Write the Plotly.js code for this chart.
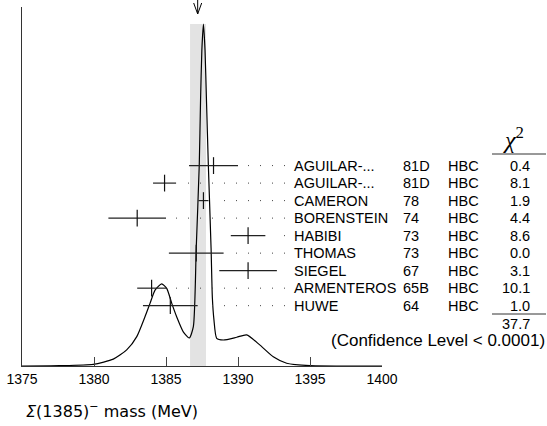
<!DOCTYPE html>
<html>
<head>
<meta charset="utf-8">
<script src="https://cdn.plot.ly/plotly-3.0.1.min.js"></script>
<style>html,body{margin:0;padding:0;background:#fff;}#chart{width:547px;height:426px;}</style>
</head>
<body>
<div id="chart"></div>
<script>
// ---- data ----
const names  = ["AGUILAR-...", "AGUILAR-...", "CAMERON", "BORENSTEIN", "HABIBI", "THOMAS", "SIEGEL", "ARMENTEROS", "HUWE"];
const years  = ["81D", "81D", "78", "74", "73", "73", "67", "65B", "64"];
const techs  = ["HBC", "HBC", "HBC", "HBC", "HBC", "HBC", "HBC", "HBC", "HBC"];
const values = [1388.3, 1384.9, 1387.6, 1383.0, 1390.7, 1387.1, 1390.7, 1384.0, 1385.3];
const errors = [1.7, 0.8, 0.35, 2.0, 1.2, 1.9, 2.0, 1.0, 1.9];
const chi2   = ["0.4", "8.1", "1.9", "4.4", "8.6", "0.0", "3.1", "10.1", "1.0"];
const chi2Total = "37.7";
const confidence = "(Confidence Level < 0.0001)";
const average = 1387.2;
const bandLow = 1386.67, bandHigh = 1387.78;
const xTicks = [1375, 1380, 1385, 1390, 1395, 1400];
const xTitle = "<i>Σ</i>(1385)<sup>−</sup> mass (MeV)";
// ideogram curve (relative height)
const curveX = [1375.0, 1377.6, 1379.95, 1381.34, 1382.27, 1382.97, 1383.54, 1383.89, 1384.24, 1384.70, 1385.05, 1385.40, 1385.74, 1386.20, 1386.62, 1386.90, 1387.10, 1387.31, 1387.40, 1387.49, 1387.60, 1387.71, 1387.81, 1387.94, 1388.13, 1388.22, 1388.33, 1388.52, 1388.98, 1389.91, 1390.60, 1391.53, 1392.45, 1393.38, 1395.0, 1400.0];
const curveY = [0.0, 0.001, 0.005, 0.020, 0.047, 0.086, 0.144, 0.183, 0.222, 0.240, 0.227, 0.183, 0.144, 0.100, 0.082, 0.115, 0.345, 0.588, 0.778, 0.924, 1.0, 0.924, 0.778, 0.588, 0.345, 0.199, 0.135, 0.081, 0.076, 0.084, 0.091, 0.061, 0.027, 0.008, 0.001, 0.0];

// ---- layout geometry ----
const W = 547, H = 426;
const M = {l: 22, r: 165, t: 7, b: 60};
const plotW = W - M.l - M.r, plotH = H - M.t - M.b;
const xMin = 1375, xMax = 1400;
const yMax = 1.0497;
const pxX = px => (px - M.l) / plotW;            // pixel -> paper x
const pxY = py => (H - M.b - py) / plotH;         // pixel -> paper y
const mevPerPx = (xMax - xMin) / plotW;
const rowTop = 0.586, rowStep = 0.0512;
const rowY = i => rowTop - i * rowStep;
const textFont = {family: "Liberation Sans, Arial, sans-serif", size: 14.5, color: "#000"};

const traces = [
  {
    x: curveX, y: curveY, type: "scatter", mode: "lines",
    line: {color: "#000", width: 1.2, shape: "spline", smoothing: 0.6},
    hoverinfo: "skip"
  },
  {
    x: values, y: values.map((v, i) => rowY(i)), type: "scatter", mode: "markers",
    marker: {symbol: "line-ns-open", size: 12, color: "#111", line: {color: "#111", width: 1.2}},
    error_x: {type: "data", array: errors, visible: true, thickness: 1.2, width: 0, color: "#222"},
    hoverinfo: "skip"
  }
];

const shapes = [
  {type: "rect", xref: "x", yref: "y", x0: bandLow, x1: bandHigh, y0: 0, y1: 1.0,
   fillcolor: "#e3e3e3", line: {width: 0}, layer: "below"}
];
// arrow marking the average
const aTip = pxY(14), aTop = pxY(0), aArm = pxY(3), aHalf = 4 * mevPerPx;
shapes.push({type: "line", xref: "x", yref: "paper", x0: average, x1: average, y0: aTop, y1: aTip, line: {color: "#000", width: 1}});
shapes.push({type: "path", xref: "x", yref: "paper",
  path: `M ${average - aHalf} ${aArm} L ${average} ${aTip} L ${average + aHalf} ${aArm}`,
  line: {color: "#000", width: 1}});

// dotted leader lines snapped to a common grid
const gridStep = 12 * mevPerPx;
const grid0 = xMin + (176 - M.l) * mevPerPx;
const leaderEnd = xMin + (285 - M.l) * mevPerPx;
values.forEach((v, i) => {
  const hi = v + errors[i] + 8 * mevPerPx;
  const start = grid0 + Math.ceil((hi - grid0) / gridStep) * gridStep;
  if (start > leaderEnd) return;
  const n = Math.floor((leaderEnd - start) / gridStep);
  shapes.push({type: "line", xref: "x", yref: "y", x0: start, x1: start + n * gridStep + 1.2 * mevPerPx,
    y0: rowY(i), y1: rowY(i), line: {color: "#444", width: 1, dash: "1px,11px"}});
});
// chi2 column rules
shapes.push({type: "line", xref: "paper", yref: "paper", x0: pxX(492), x1: pxX(546), y0: pxY(154), y1: pxY(154), line: {color: "#333", width: 1}});
shapes.push({type: "line", xref: "paper", yref: "paper", x0: pxX(492), x1: pxX(546), y0: pxY(314), y1: pxY(314), line: {color: "#333", width: 1}});

const annotations = [];
names.forEach((n, i) => {
  const y = rowY(i);
  annotations.push({text: n, xref: "paper", yref: "y", x: pxX(292), y: y, xanchor: "left", yanchor: "middle", showarrow: false, font: textFont});
  annotations.push({text: years[i], xref: "paper", yref: "y", x: pxX(401), y: y, xanchor: "left", yanchor: "middle", showarrow: false, font: textFont});
  annotations.push({text: techs[i], xref: "paper", yref: "y", x: pxX(446), y: y, xanchor: "left", yanchor: "middle", showarrow: false, font: textFont});
  annotations.push({text: chi2[i], xref: "paper", yref: "y", x: pxX(532), y: y, xanchor: "right", yanchor: "middle", showarrow: false, font: textFont});
});
annotations.push({text: "<i>χ</i><sup>2</sup>", xref: "paper", yref: "paper", x: pxX(513), y: pxY(138), xanchor: "center", yanchor: "middle", showarrow: false,
  font: {family: "Liberation Serif, serif", size: 24, color: "#000"}});
annotations.push({text: chi2Total, xref: "paper", yref: "paper", x: pxX(532), y: pxY(324), xanchor: "right", yanchor: "middle", showarrow: false, font: textFont});
annotations.push({text: confidence, xref: "paper", yref: "paper", x: pxX(547), y: pxY(340), xanchor: "right", yanchor: "middle", showarrow: false,
  font: {family: "Liberation Sans, Arial, sans-serif", size: 17, color: "#000"}});
annotations.push({text: xTitle, xref: "paper", yref: "paper", x: pxX(24), y: pxY(411), xanchor: "left", yanchor: "middle", showarrow: false,
  font: {family: "DejaVu Sans, sans-serif", size: 16, color: "#000"}});

const layout = {
  width: W, height: H,
  margin: M,
  paper_bgcolor: "#fff", plot_bgcolor: "#fff",
  showlegend: false,
  xaxis: {
    range: [xMin, xMax], tickvals: xTicks, ticktext: xTicks.map(String),
    ticks: "inside", ticklen: 9, tickwidth: 1, tickcolor: "#444",
    showline: true, linecolor: "#333", linewidth: 1.3,
    showgrid: false, zeroline: false,
    tickfont: {family: "Liberation Sans, Arial, sans-serif", size: 14, color: "#000"}
  },
  yaxis: {
    range: [0, yMax], showline: true, linecolor: "#333", linewidth: 1.3,
    ticks: "", showticklabels: false, showgrid: false, zeroline: false
  },
  shapes: shapes,
  annotations: annotations
};

Plotly.newPlot("chart", traces, layout, {staticPlot: true, displayModeBar: false});
</script>
</body>
</html>
